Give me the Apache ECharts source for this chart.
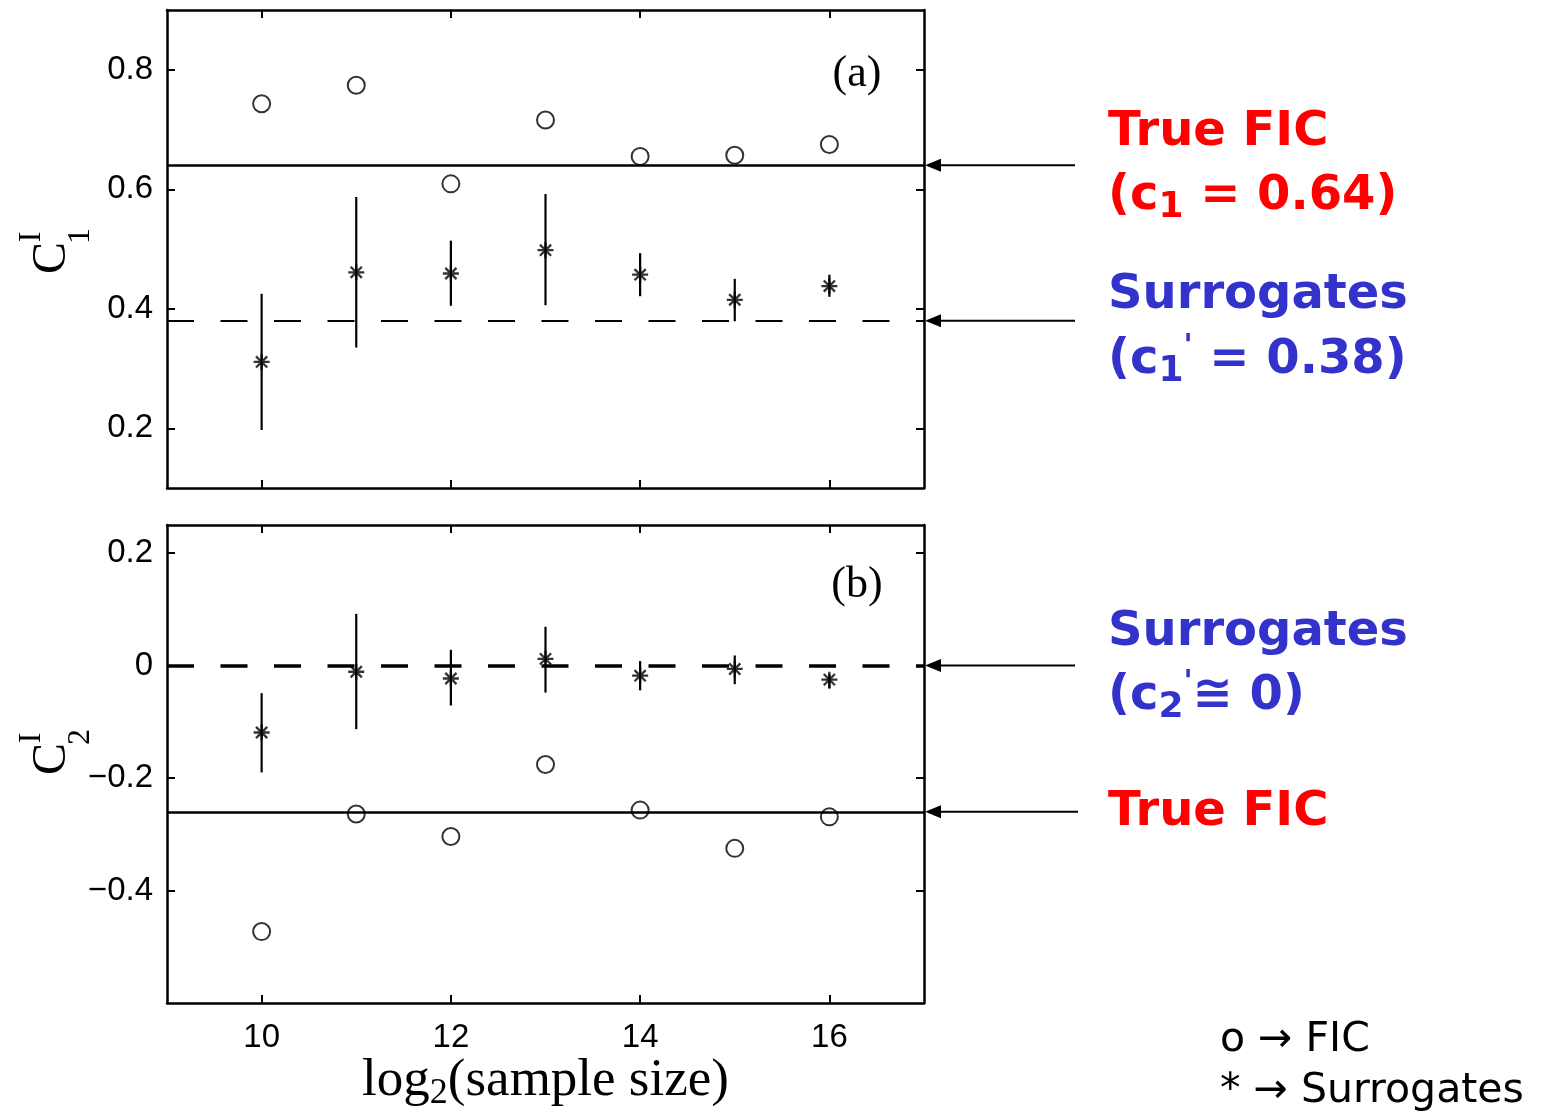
<!DOCTYPE html>
<html><head><meta charset="utf-8">
<script src="https://cdn.jsdelivr.net/npm/echarts@6/dist/echarts.min.js"></script>
<style>html,body{margin:0;padding:0;background:#fff}#c{width:1554px;height:1117px}</style>
</head><body><div id="c"></div>
<script>
// ---- data ----
const logN = [10, 11, 12, 13, 14, 15, 16];
const xTicks = [10, 12, 14, 16];
const yTicksA = [0.2, 0.4, 0.6, 0.8];
const yTicksB = [-0.4, -0.2, 0, 0.2];

const fic1 = [0.743, 0.774, 0.609, 0.716, 0.655, 0.657, 0.675];
const surr1 = [0.311, 0.461, 0.459, 0.498, 0.457, 0.415, 0.438];
const surr1Lo = [0.197, 0.335, 0.405, 0.406, 0.421, 0.379, 0.420];
const surr1Hi = [0.425, 0.587, 0.514, 0.592, 0.493, 0.450, 0.457];
const trueC1 = 0.64;
const surrC1 = 0.38;

const fic2 = [-0.473, -0.264, -0.304, -0.176, -0.257, -0.325, -0.269];
const surr2 = [-0.119, -0.011, -0.023, 0.012, -0.018, -0.006, -0.025];
const surr2Lo = [-0.190, -0.113, -0.071, -0.048, -0.044, -0.033, -0.041];
const surr2Hi = [-0.049, 0.092, 0.028, 0.069, 0.008, 0.018, -0.015];
const trueC2 = -0.26;
const surrC2 = 0;

// ---- styling ----
const RED = '#ff0000', BLUE = '#3333cc';
const SERIF = '"Liberation Serif","Times New Roman",serif';
const SANS = '"Liberation Sans",Arial,sans-serif';
const ANN = '"DejaVu Sans",sans-serif';
const STAR = 'path://M10,0 L10,20 M0,10 L20,10 M3,3 L17,17 M3,17 L17,3';

function fmt(v) {
  if (Math.abs(v) < 1e-9) return '0';
  return (v < 0 ? '\u2212' : '') + Math.abs(v).toFixed(1);
}
function xAx(grid, pos, showLabels, extra) {
  return Object.assign({
    type: 'value', gridIndex: grid, position: pos, min: 9, max: 17,
    axisLine: { show: true, onZero: false, lineStyle: { color: '#000', width: 2.5 } },
    axisTick: { show: true, inside: true, length: 8, customValues: xTicks, lineStyle: { color: '#000', width: 2 } },
    axisLabel: { show: showLabels, customValues: xTicks, margin: 18, color: '#000', fontFamily: SANS, fontSize: 33 },
    splitLine: { show: false }
  }, extra || {});
}
function yAx(grid, pos, min, max, ticks, showLabels) {
  return {
    type: 'value', gridIndex: grid, position: pos, min: min, max: max,
    axisLine: { show: true, onZero: false, lineStyle: { color: '#000', width: 2.5 } },
    axisTick: { show: true, inside: true, length: 8, customValues: ticks, lineStyle: { color: '#000', width: 2 } },
    axisLabel: { show: showLabels, customValues: ticks, margin: 14, color: '#000', fontFamily: SANS, fontSize: 33, formatter: fmt },
    splitLine: { show: false }
  };
}
function pairs(xs, ys) { return xs.map((x, i) => [x, ys[i]]); }
function triples(xs, lo, hi) { return xs.map((x, i) => [x, lo[i], hi[i]]); }

function errSeries(xi, yi, data) {
  return {
    type: 'custom', xAxisIndex: xi, yAxisIndex: yi, silent: true, z: 3,
    encode: { x: 0, y: [1, 2] },
    data: data,
    renderItem: function (params, api) {
      const a = api.coord([api.value(0), api.value(1)]);
      const b = api.coord([api.value(0), api.value(2)]);
      return { type: 'line', shape: { x1: a[0], y1: a[1], x2: b[0], y2: b[1] },
               style: { stroke: '#000', lineWidth: 2.2 } };
    }
  };
}
function circSeries(xi, yi, data, trueV, surrV, dashW) {
  return {
    type: 'scatter', xAxisIndex: xi, yAxisIndex: yi, silent: true, z: 4,
    symbol: 'circle', symbolSize: 17, data: data,
    itemStyle: { color: 'rgba(0,0,0,0)', borderColor: '#000', borderWidth: 2 },
    markLine: {
      silent: true, symbol: 'none', label: { show: false }, animation: false,
      data: [
        { yAxis: trueV, lineStyle: { type: 'solid', width: 2.6, color: '#000' } },
        { yAxis: surrV, lineStyle: { type: [27, 26.5], width: dashW, color: '#000' } }
      ]
    }
  };
}
function starSeries(xi, yi, data) {
  return {
    type: 'scatter', xAxisIndex: xi, yAxisIndex: yi, silent: true, z: 5,
    symbol: STAR, symbolSize: 16, data: data,
    itemStyle: { color: 'rgba(0,0,0,0)', borderColor: '#000', borderWidth: 2.3 }
  };
}

const chart = echarts.init(document.getElementById('c'), null, { renderer: 'canvas' });
chart.setOption({
  animation: false,
  backgroundColor: '#fff',
  grid: [
    { left: 167, top: 10, width: 757, height: 478 },
    { left: 167, top: 525, width: 757, height: 478 }
  ],
  xAxis: [
    xAx(0, 'bottom', false),
    xAx(0, 'top', false),
    xAx(1, 'bottom', true, {
      name: '{t|log}{s|2}{t|(sample size)}',
      nameLocation: 'middle', nameGap: 48,
      nameTextStyle: {
        rich: {
          t: { fontFamily: SERIF, fontSize: 53, color: '#000', lineHeight: 60 },
          s: { fontFamily: SERIF, fontSize: 36, color: '#000', lineHeight: 10, verticalAlign: 'bottom' }
        }
      }
    }),
    xAx(1, 'top', false)
  ],
  yAxis: [
    yAx(0, 'left', 0.1, 0.9, yTicksA, true),
    yAx(0, 'right', 0.1, 0.9, yTicksA, false),
    yAx(1, 'left', -0.6, 0.25, yTicksB, true),
    yAx(1, 'right', -0.6, 0.25, yTicksB, false)
  ],
  series: [
    circSeries(0, 0, pairs(logN, fic1), trueC1, surrC1, 2.2),
    errSeries(0, 0, triples(logN, surr1Lo, surr1Hi)),
    starSeries(0, 0, pairs(logN, surr1)),
    circSeries(2, 2, pairs(logN, fic2), trueC2, surrC2, 3.5),
    errSeries(2, 2, triples(logN, surr2Lo, surr2Hi)),
    starSeries(2, 2, pairs(logN, surr2))
  ]
});

// ---- annotations (positions of arrows follow the reference lines) ----
const xr = chart.convertToPixel({ xAxisIndex: 0 }, 17);
const yT1 = chart.convertToPixel({ yAxisIndex: 0 }, trueC1);
const yS1 = chart.convertToPixel({ yAxisIndex: 0 }, surrC1);
const yS2 = chart.convertToPixel({ yAxisIndex: 2 }, surrC2);
const yT2 = chart.convertToPixel({ yAxisIndex: 2 }, trueC2);

function arrow(y, xEnd) {
  const tip = xr + 1;
  return [
    { type: 'line', silent: true, shape: { x1: tip + 10, y1: y, x2: xEnd, y2: y }, style: { stroke: '#000', lineWidth: 2 } },
    { type: 'polygon', silent: true, shape: { points: [[tip, y], [tip + 16, y - 6.5], [tip + 16, y + 6.5]] }, style: { fill: '#000' } }
  ];
}
const annRich = (color) => ({
  m: { font: 'bold 48px ' + ANN, fill: color, lineHeight: 58 },
  s: { font: 'bold 36px ' + ANN, fill: color, lineHeight: 24, verticalAlign: 'bottom' },
  p: { font: 'bold 30px ' + ANN, fill: color, lineHeight: 18, verticalAlign: 'top' }
});
function plain(text, x, y, color) {
  return { type: 'text', silent: true, x: x, y: y, style: { text: text, font: 'bold 48px ' + ANN, fill: color, textAlign: 'left', textVerticalAlign: 'top' } };
}
function rich(text, x, y, color) {
  return { type: 'text', silent: true, x: x, y: y, style: { text: text, rich: annRich(color), textAlign: 'left', textVerticalAlign: 'top' } };
}
function rot(text, x, y, size) {
  return { type: 'text', silent: true, x: x, y: y, rotation: Math.PI / 2,
    style: { text: text, font: size + 'px ' + SERIF, fill: '#000', textAlign: 'center', textVerticalAlign: 'middle' } };
}

const g = [].concat(
  arrow(yT1, 1075), arrow(yS1, 1075), arrow(yS2, 1075), arrow(yT2, 1078),
  [
    plain('True FIC', 1108, 109, RED),
    rich('{m|(c}{s|1}{m| = 0.64)}', 1108, 168, RED),
    plain('Surrogates', 1108, 272, BLUE),
    rich("{m|(c}{s|1}{p|'}{m| = 0.38)}", 1108, 332, BLUE),
    plain('Surrogates', 1108, 609, BLUE),
    rich("{m|(c}{s|2}{p|'}{m|\u2245 0)}", 1108, 668, BLUE),
    plain('True FIC', 1108, 789, RED),
    { type: 'text', silent: true, x: 1220, y: 1020, style: { text: 'o \u2192 FIC', font: '41px ' + ANN, fill: '#000', textVerticalAlign: 'top' } },
    { type: 'text', silent: true, x: 1220, y: 1071, style: { text: '* \u2192 Surrogates', font: '41px ' + ANN, fill: '#000', textVerticalAlign: 'top' } },
    { type: 'text', silent: true, x: 857, y: 74, style: { text: '(a)', font: '44px ' + SERIF, fill: '#000', textAlign: 'center', textVerticalAlign: 'middle' } },
    { type: 'text', silent: true, x: 857, y: 585, style: { text: '(b)', font: '44px ' + SERIF, fill: '#000', textAlign: 'center', textVerticalAlign: 'middle' } },
    rot('C', 52, 258, 48), rot('I', 32, 237, 32), rot('1', 81, 236, 32),
    rot('C', 52, 759, 48), rot('I', 32, 738, 32), rot('2', 81, 737, 32)
  ]
);
chart.setOption({ graphic: g });
</script>
</body></html>
